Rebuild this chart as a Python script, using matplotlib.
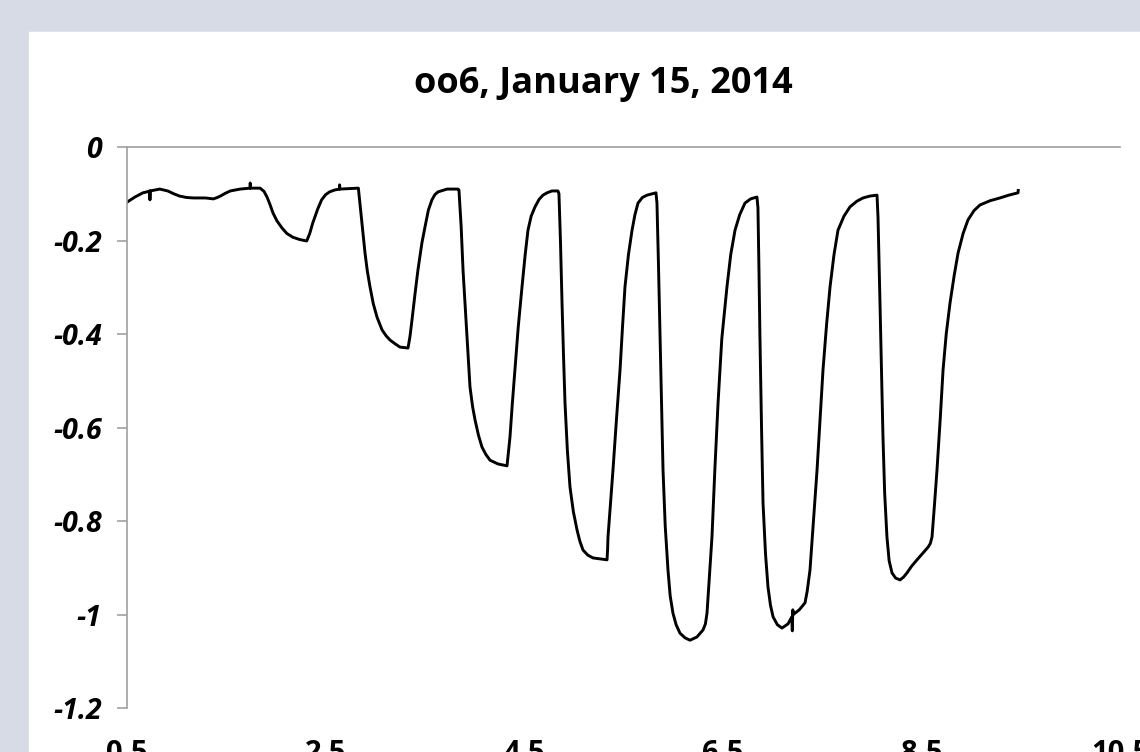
import matplotlib.pyplot as plt
from matplotlib.patches import Rectangle
from matplotlib.ticker import FixedLocator

plt.rcParams['font.family'] = ['Open Sans', 'DejaVu Sans']

# (time, signal), one list per stretch of the trace
baseline = [(0.50, -0.118), (0.58, -0.107), (0.66, -0.098), (0.70, -0.096),
            (0.73, -0.094), (0.731, -0.113), (0.733, -0.094), (0.83, -0.090),
            (0.91, -0.094), (0.97, -0.100), (1.03, -0.105), (1.10, -0.108),
            (1.17, -0.109), (1.29, -0.109), (1.37, -0.111), (1.41, -0.108),
            (1.44, -0.105), (1.49, -0.099), (1.54, -0.094), (1.64, -0.090),
            (1.74, -0.088), (1.741, -0.077), (1.743, -0.088), (1.84, -0.088)]
dip1 = [(1.88, -0.095), (1.91, -0.107), (1.94, -0.123), (1.97, -0.141),
        (2.01, -0.158), (2.06, -0.173), (2.11, -0.185), (2.17, -0.193),
        (2.24, -0.198), (2.31, -0.201), (2.34, -0.185), (2.37, -0.163),
        (2.42, -0.133), (2.46, -0.113), (2.50, -0.102), (2.54, -0.096),
        (2.59, -0.092), (2.64, -0.090), (2.641, -0.081), (2.643, -0.090),
        (2.83, -0.088)]
dip2 = [(2.86, -0.150), (2.897, -0.227), (2.92, -0.265), (2.947, -0.299),
        (2.98, -0.335), (3.018, -0.364), (3.068, -0.391), (3.11, -0.404),
        (3.149, -0.413), (3.20, -0.421), (3.249, -0.428), (3.330, -0.430),
        (3.350, -0.405), (3.370, -0.370), (3.40, -0.315), (3.430, -0.263),
        (3.47, -0.205), (3.501, -0.171), (3.535, -0.135), (3.571, -0.113),
        (3.60, -0.102), (3.632, -0.096), (3.723, -0.090), (3.833, -0.090)]
dip3 = [(3.843, -0.092), (3.865, -0.170), (3.884, -0.263), (3.905, -0.340),
        (3.924, -0.406), (3.954, -0.513), (3.98, -0.555), (4.005, -0.584),
        (4.04, -0.617), (4.075, -0.642), (4.115, -0.658), (4.156, -0.670),
        (4.236, -0.678), (4.327, -0.682), (4.340, -0.655), (4.357, -0.620),
        (4.38, -0.550), (4.407, -0.477), (4.44, -0.385), (4.478, -0.299),
        (4.51, -0.230), (4.538, -0.178), (4.57, -0.148), (4.609, -0.128),
        (4.65, -0.112), (4.689, -0.103), (4.73, -0.098), (4.780, -0.094),
        (4.840, -0.094)]
dip4 = [(4.850, -0.100), (4.865, -0.200), (4.881, -0.334), (4.895, -0.440),
        (4.911, -0.548), (4.935, -0.650), (4.961, -0.727), (4.995, -0.780),
        (5.032, -0.819), (5.06, -0.843), (5.092, -0.862), (5.14, -0.873),
        (5.193, -0.879), (5.26, -0.881), (5.334, -0.883), (5.340, -0.860),
        (5.344, -0.834), (5.37, -0.760), (5.394, -0.691), (5.43, -0.580),
        (5.465, -0.477), (5.49, -0.385), (5.515, -0.299), (5.55, -0.230),
        (5.586, -0.178), (5.615, -0.145), (5.646, -0.120), (5.69, -0.108),
        (5.737, -0.103), (5.827, -0.098)]
dip5 = [(5.837, -0.120), (5.852, -0.250), (5.868, -0.406), (5.883, -0.550),
        (5.898, -0.691), (5.92, -0.810), (5.948, -0.905), (5.97, -0.960),
        (5.998, -0.997), (6.03, -1.022), (6.069, -1.040), (6.12, -1.050),
        (6.170, -1.055), (6.24, -1.048), (6.301, -1.033), (6.325, -1.020),
        (6.341, -0.997), (6.365, -0.920), (6.391, -0.834), (6.42, -0.690),
        (6.452, -0.548), (6.49, -0.410), (6.542, -0.299), (6.58, -0.230),
        (6.623, -0.178), (6.67, -0.145), (6.723, -0.120), (6.78, -0.111),
        (6.844, -0.107)]
dip6 = [(6.854, -0.130), (6.864, -0.260), (6.874, -0.406), (6.89, -0.600),
        (6.905, -0.761), (6.93, -0.870), (6.955, -0.941), (6.98, -0.980),
        (7.006, -1.005), (7.05, -1.022), (7.096, -1.029), (7.157, -1.020),
        (7.195, -1.005), (7.200, -1.035), (7.205, -0.990), (7.21, -1.000),
        (7.27, -0.990), (7.328, -0.975), (7.35, -0.950), (7.378, -0.905),
        (7.41, -0.810), (7.449, -0.691), (7.48, -0.580), (7.509, -0.477),
        (7.545, -0.380), (7.580, -0.299), (7.62, -0.230), (7.660, -0.178),
        (7.72, -0.148), (7.781, -0.128), (7.85, -0.116), (7.912, -0.109),
        (7.98, -0.105), (8.053, -0.103)]
dip7 = [(8.063, -0.150), (8.073, -0.240), (8.083, -0.334), (8.098, -0.480),
        (8.113, -0.620), (8.13, -0.740), (8.153, -0.834), (8.175, -0.885),
        (8.204, -0.911), (8.24, -0.922), (8.285, -0.926), (8.32, -0.920),
        (8.355, -0.911), (8.40, -0.897), (8.456, -0.883), (8.51, -0.870),
        (8.567, -0.856), (8.59, -0.848), (8.607, -0.834), (8.63, -0.770),
        (8.657, -0.691), (8.69, -0.580), (8.718, -0.477), (8.75, -0.400),
        (8.788, -0.334), (8.83, -0.275), (8.869, -0.227), (8.92, -0.185),
        (8.969, -0.156), (9.03, -0.136), (9.090, -0.124), (9.19, -0.115),
        (9.291, -0.109), (9.38, -0.103), (9.473, -0.098), (9.475, -0.093)]

xticks = [0.5, 2.5, 4.5, 6.5, 8.5, 10.5]
xlabels = ["0.5", "2.5", "4.5", "6.5", "8.5", "10.5"]
yticks = [0, -0.2, -0.4, -0.6, -0.8, -1.0, -1.2]
ylabels = ["0", "-0.2", "-0.4", "-0.6", "-0.8", "-1", "-1.2"]

trace = baseline + dip1 + dip2 + dip3 + dip4 + dip5 + dip6 + dip7
t = [p[0] for p in trace]
signal = [p[1] for p in trace]

fig = plt.figure(figsize=(11.4, 7.52), dpi=100, facecolor="#D6DBE5")
fig.add_artist(Rectangle((29 / 1140, -0.1), 1.2, 1.1 - 32 / 752,
                         transform=fig.transFigure, color="white", zorder=0))

ax = fig.add_axes([127 / 1140, 1 - 708 / 752, (1120 - 127) / 1140, (708 - 147) / 752])
ax.set_facecolor("none")
ax.plot(t, signal, color="black", linewidth=2.1, solid_joinstyle="round")

ax.set_xlim(0.5, 10.5)
ax.set_ylim(-1.2, 0)

axcol = "#A0A0A0"
for s in ["right", "bottom"]:
    ax.spines[s].set_visible(False)
for s in ["left", "top"]:
    ax.spines[s].set_color(axcol)
    ax.spines[s].set_linewidth(1.2)

ax.yaxis.set_major_locator(FixedLocator(yticks))
ax.set_yticklabels(ylabels, fontsize=20.5, fontweight="bold", style="italic")
ax.tick_params(axis="y", direction="out", length=7.2, width=1.2, color=axcol, pad=11)

ax.xaxis.set_major_locator(FixedLocator(xticks))
ax.set_xticklabels(xlabels, fontsize=21, fontweight="bold")
ax.tick_params(axis="x", length=0, pad=22)

fig.text(603 / 1140, 1 - 93 / 752, "oo6, January 15, 2014", fontsize=26,
         fontweight="bold", ha="center", va="baseline")

plt.savefig("out.png", dpi=100, facecolor=fig.get_facecolor())
